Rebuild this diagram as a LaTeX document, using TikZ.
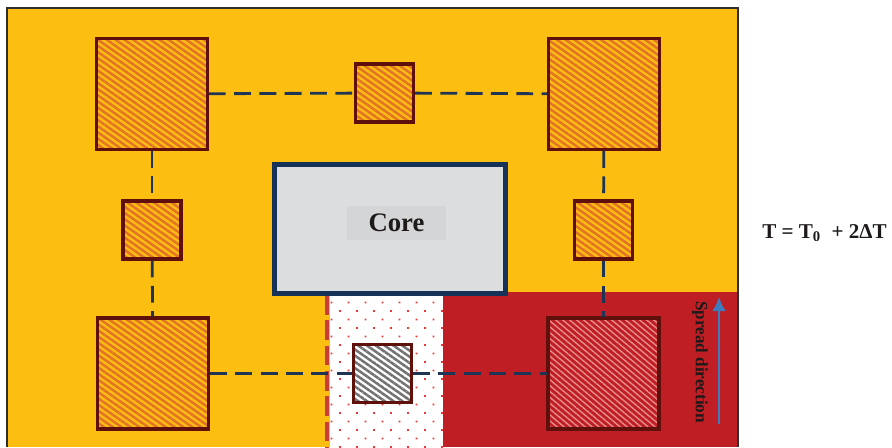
\documentclass[tikz,border=0pt]{standalone}
\usepackage{fontspec}
\setmainfont{Liberation Serif}
\usepackage[x11names]{xcolor}
\usetikzlibrary{arrows,arrows.meta}
\usetikzlibrary{patterns.meta}

\definecolor{gelbFlaeche}{RGB}{253,190,18}
\definecolor{streifOrange}{RGB}{226,116,38}
\definecolor{chipRand}{RGB}{96,16,10}
\definecolor{rotFlaeche}{RGB}{190,30,36}
\definecolor{streifRot}{RGB}{230,140,140}
\definecolor{streifGrau}{RGB}{115,115,115}
\definecolor{kernGrau}{RGB}{220,221,223}
\definecolor{kernRand}{RGB}{22,50,88}
\definecolor{labelGrau}{RGB}{212,213,214}
\definecolor{linienBlau}{RGB}{30,52,85}
\definecolor{punktRot}{RGB}{235,55,55}
\definecolor{strichRot}{RGB}{200,62,50}
\definecolor{pfeilBlau}{RGB}{62,124,192}
\definecolor{textDunkel}{RGB}{30,26,26}
\definecolor{rahmenGrau}{RGB}{45,45,50}

\begin{document}
\begin{tikzpicture}[%
		x=0.025cm, y=0.025cm,
		font=\bfseries,
		>=Latex,
		chip/.style={draw=chipRand, line width=2.2pt, inner sep=0pt},
		gross/.style={chip, minimum size=2.775cm},
		klein/.style={chip, minimum size=1.45cm},
		orangechip/.style={preaction={fill=gelbFlaeche}, pattern={Lines[angle=-35,distance=3.6pt,line width=1.8pt]}, pattern color=streifOrange},
		rotchip/.style={preaction={fill=rotFlaeche}, pattern={Lines[angle=-40,distance=3.2pt,line width=1pt]}, pattern color=streifRot},
		graychip/.style={preaction={fill=white}, pattern={Lines[angle=-35,distance=3.6pt,line width=1.8pt]}, pattern color=streifGrau},
		verbindung/.style={draw=linienBlau, line width=2pt, dash pattern=on 12pt off 6pt}
		]

		\useasboundingbox (0,0) rectangle (892,447);

		%% Flaechen
		\fill [gelbFlaeche] (7,0) rectangle (738,439);
		\fill [rotFlaeche] (443,0) rectangle (738,155);
		\fill [white] (330,0) rectangle (443,153);
		\fill [pattern={Dots[radius=0.85pt,distance=8.55pt,angle=45]}, pattern color=punktRot] (330,0) rectangle (443,153);
		\draw [strichRot, line width=2.2pt, dash pattern=on 14pt off 4pt] (327,152) -- (327,0);
		\draw [rahmenGrau, line width=1.6pt] (7,0) -- (7,439) -- (738,439) -- (738,0);

		%% Kern
		\node [draw=kernRand, fill=kernGrau, line width=3.5pt, minimum width=5.775cm, minimum height=3.225cm] (kern) at (390,218) {};
		\node [fill=labelGrau, minimum width=2.475cm, minimum height=0.85cm, text=textDunkel, font=\bfseries\fontsize{19}{22}\selectfont] (kernText) at (396.5,224) {Core};

		%% Chips
		\node [gross, orangechip] (lo) at (152,353) {};
		\node [klein, orangechip] (mo) at (384.5,354) {};
		\node [gross, orangechip] (ro) at (604,353) {};
		\node [klein, orangechip] (lm) at (152,217) {};
		\node [klein, orangechip] (rm) at (603.5,217) {};
		\node [gross, orangechip] (lu) at (153,73.5) {};
		\node [klein, graychip] (mu) at (382.5,73.5) {};
		\node [gross, rotchip] (ru) at (603.5,73.5) {};

		%% Verbindungen
		\draw [verbindung] (lo) -- (mo);
		\draw [verbindung] (mo) -- (ro);
		\draw [verbindung] (lo) -- (lm);
		\draw [verbindung] (lm) -- (lu);
		\draw [verbindung] (ro) -- (rm);
		\draw [verbindung] (rm) -- (ru);
		\draw [verbindung] (lu) -- (mu);
		\draw [verbindung] (mu) -- (ru);

		%% Ausbreitung
		\coordinate (pfeilFuss) at (719,23);
		\coordinate (pfeilSpitze) at (719,150);
		\draw [pfeilBlau, line width=2pt, -{Latex[length=10pt,width=10pt]}] (pfeilFuss) -- (pfeilSpitze);
		\node [rotate=-90, text=textDunkel, font=\bfseries\fontsize{12.2}{14}\selectfont] (richtung) at (700,85) {Spread direction};

		\node [text=textDunkel, font=\bfseries\fontsize{15}{18}\selectfont] (formel) at (824.5,214) {T = T\textsubscript{0}\ \ + 2ΔT};

	\end{tikzpicture}
\end{document}
